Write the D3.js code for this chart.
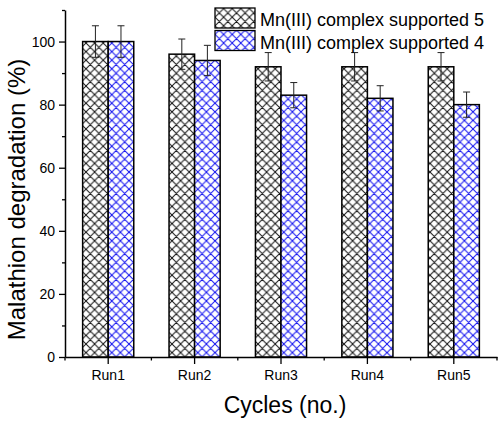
<!DOCTYPE html>
<html>
<head>
<meta charset="utf-8">
<script src="https://cdn.jsdelivr.net/npm/d3@7"></script>
<style>
  body { margin: 0; background: #fff; }
  svg { display: block; font-family: "Liberation Sans", Arial, sans-serif; }
</style>
</head>
<body>
<svg id="chart" width="502" height="421"></svg>
<script>
const categories = ["Run1", "Run2", "Run3", "Run4", "Run5"];
const seriesNames = ["Mn(III) complex supported 5", "Mn(III) complex supported 4"];
const values5 = [100, 96, 92, 92, 92];
const values4 = [100, 94, 83, 82, 80];
const errors5 = [5, 4.8, 4.5, 4.5, 4.5];
const errors4 = [5, 4.8, 4, 4, 4];
const yTicks = [0, 20, 40, 60, 80, 100];
const yMinorTicks = [10, 30, 50, 70, 90, 110];

(function () {
const svg = d3.select("#chart");
const mLeft = 65, mRight = 497, mTop = 10, mBottom = 357;

const x = d3.scaleBand().domain(categories).range([mLeft, mRight]).padding(0);
const sub = d3.scaleBand().domain([0, 1]).range([0, x.bandwidth()]).paddingInner(0).paddingOuter(0.69);
const y = d3.scaleLinear().domain([0, 110]).range([mBottom, mTop]);

// patterns
const defs = svg.append("defs");
function hatch(id, color) {
  const p = defs.append("pattern").attr("id", id).attr("patternUnits", "userSpaceOnUse")
    .attr("width", 8.6).attr("height", 8.6);
  p.append("rect").attr("width", 8.6).attr("height", 8.6).attr("fill", "#fff");
  p.append("path").attr("d", "M-1,-1 L9.6,9.6 M-1,9.6 L9.6,-1 M-1,7.6 L1,9.6 M7.6,-1 L9.6,1 M-1,1 L1,-1 M7.6,9.6 L9.6,7.6")
    .attr("stroke", color).attr("stroke-width", 1).attr("fill", "none");
}
hatch("h5", "#111");
hatch("h4", "#1010f0");

const series = [
  { name: seriesNames[0], vals: values5, errs: errors5, fill: "url(#h5)" },
  { name: seriesNames[1], vals: values4, errs: errors4, fill: "url(#h4)" }
];

series.forEach((s, si) => {
  const g = svg.append("g");
  g.selectAll("rect").data(categories).join("rect")
    .attr("x", (c) => x(c) + sub(si))
    .attr("y", (c, i) => y(s.vals[i]))
    .attr("width", sub.bandwidth())
    .attr("height", (c, i) => y(0) - y(s.vals[i]))
    .attr("fill", s.fill)
    .attr("stroke", "#000").attr("stroke-width", 1.5);
});

// error bars
series.forEach((s, si) => {
  const g = svg.append("g").attr("stroke", "#222").attr("stroke-width", 1);
  categories.forEach((c, i) => {
    const cx = x(c) + sub(si) + sub.bandwidth() / 2;
    const y1 = y(s.vals[i] + s.errs[i]), y2 = y(s.vals[i] - s.errs[i]);
    g.append("line").attr("x1", cx).attr("x2", cx).attr("y1", y1).attr("y2", y2);
    g.append("line").attr("x1", cx - 3.5).attr("x2", cx + 3.5).attr("y1", y1).attr("y2", y1);
    g.append("line").attr("x1", cx - 3.5).attr("x2", cx + 3.5).attr("y1", y2).attr("y2", y2);
  });
});

// Y axis
const yAxis = svg.append("g").attr("transform", `translate(${mLeft},0)`)
  .call(d3.axisLeft(y).tickValues(yTicks).tickSize(6).tickPadding(4).tickSizeOuter(0));
svg.append("g").attr("transform", `translate(${mLeft},0)`)
  .call(d3.axisLeft(y).tickValues(yMinorTicks).tickSize(3).tickFormat("").tickSizeOuter(0))
  .select(".domain").remove();
yAxis.selectAll("text").attr("font-size", 14).attr("fill", "#000").attr("font-family", "Liberation Sans, Arial, sans-serif");
yAxis.select(".domain").attr("stroke-width", 1.5);
svg.selectAll(".tick line").attr("stroke-width", 1.3);

// X axis
const xAxis = svg.append("g").attr("transform", `translate(0,${mBottom})`)
  .call(d3.axisBottom(x).tickSize(7).tickPadding(6).tickSizeOuter(0));
xAxis.selectAll("text").attr("font-size", 14).attr("fill", "#000").attr("font-family", "Liberation Sans, Arial, sans-serif");
xAxis.select(".domain").attr("stroke-width", 1.5);
xAxis.selectAll(".tick line").attr("stroke-width", 1.3);
const bounds = categories.map(c => x(c)).concat([x(categories[categories.length - 1]) + x.bandwidth()]);
svg.append("g").selectAll("line").data(bounds).join("line")
  .attr("x1", d => d).attr("x2", d => d).attr("y1", mBottom).attr("y2", mBottom + 3.5)
  .attr("stroke", "#000").attr("stroke-width", 1.3);

// Titles
svg.append("text").attr("x", (mLeft + mRight) / 2 + 4).attr("y", 413)
  .attr("text-anchor", "middle").attr("font-size", 23).text("Cycles (no.)");
svg.append("text").attr("transform", `translate(25,${(mTop + mBottom) / 2 + 16}) rotate(-90)`)
  .attr("text-anchor", "middle").attr("font-size", 24).text("Malathion degradation (%)");

// Legend
const legend = svg.append("g");
series.forEach((s, si) => {
  const ly = 8 + si * 22.5;
  legend.append("rect").attr("x", 215).attr("y", ly).attr("width", 40).attr("height", 20)
    .attr("fill", s.fill).attr("stroke", "#000").attr("stroke-width", 1.3);
  legend.append("text").attr("x", 260).attr("y", ly + 18).attr("font-size", 18).text(s.name);
});
})();
</script>
</body>
</html>
